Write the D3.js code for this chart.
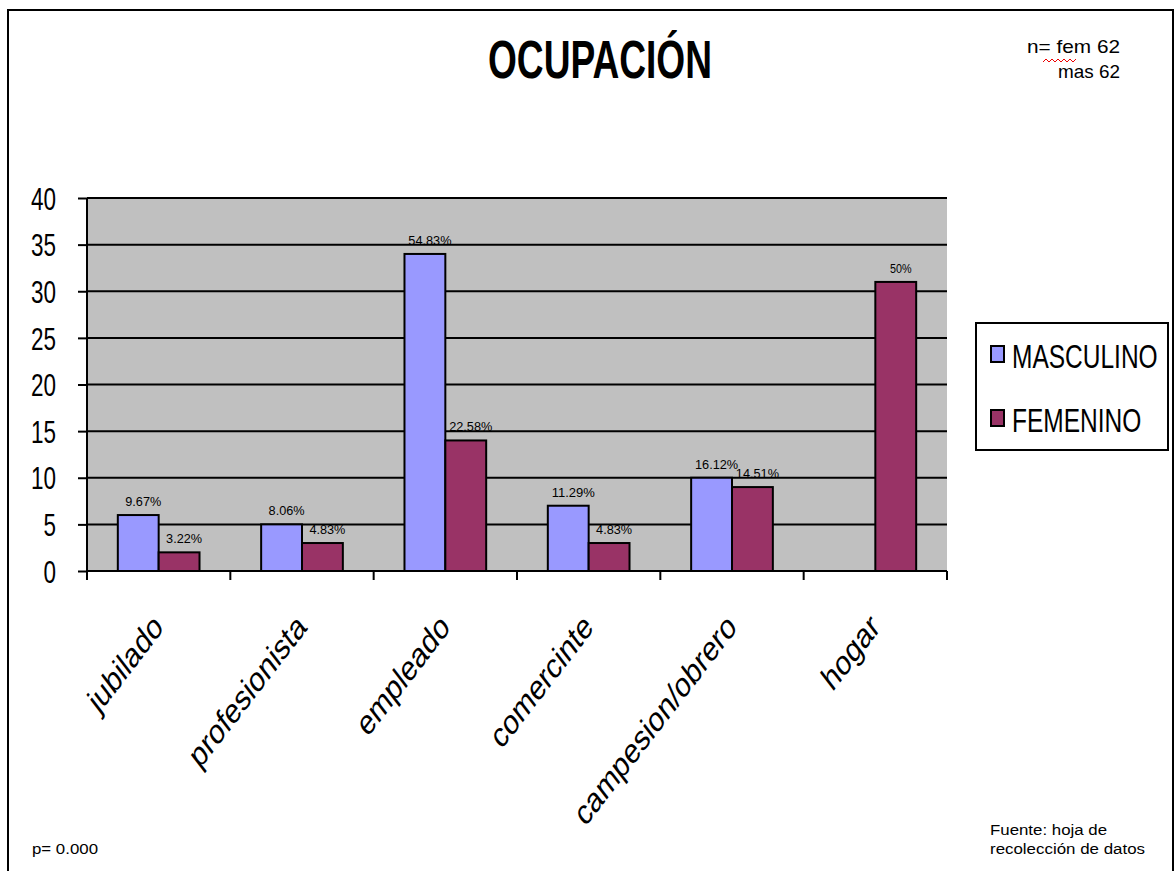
<!DOCTYPE html>
<html>
<head>
    <meta charset="utf-8">
    <title>Ocupación</title>
    <style>
        body { margin: 0; background: #fff; }
        svg { display: block; }
        text { font-family: "Liberation Sans", Arial, sans-serif; fill: #000; }
        .grid line { stroke: #000; stroke-width: 2px; }
        .bar { stroke: #000; stroke-width: 2px; }
    </style>
</head>
<body>
<svg id="chart" width="1176" height="871"></svg>
<script src="https://d3js.org/d3.v7.min.js"></script>
<script>
    const categories = ["jubilado", "profesionista", "empleado", "comercinte", "campesion/obrero", "hogar"];
    const series = ["MASCULINO", "FEMENINO"];
    const masculino = [6, 5, 34, 7, 10, 0];
    const femenino = [2, 3, 14, 3, 9, 31];
    const mascLabels = ["9.67%", "8.06%", "54.83%", "11.29%", "16.12%", ""];
    const femLabels = ["3.22%", "4.83%", "22.58%", "4.83%", "14.51%", "50%"];
    const yTicks = [0, 5, 10, 15, 20, 25, 30, 35, 40];
    const colors = ["#9999ff", "#993366"];

    const svg = d3.select("#chart");

    // the source picture is stretched, so text is squeezed to its measured width
    function fit(sel, w) {
        return sel.attr("textLength", w).attr("lengthAdjust", "spacingAndGlyphs");
    }

    // outer frame
    svg.append("rect").attr("x", 8).attr("y", 10).attr("width", 1165).attr("height", 870)
        .attr("fill", "none").attr("stroke", "#000").attr("stroke-width", 2);

    const pL = 87, pR = 947, pT = 198, pB = 571;

    const x = d3.scaleBand().domain(categories).range([pL, pR]);
    const x1 = d3.scaleBand().domain(series).range([x.bandwidth() * 0.215, x.bandwidth() * 0.785]);
    const y = d3.scaleLinear().domain([0, 40]).range([pB, pT]);

    // plot background
    svg.append("rect").attr("x", pL).attr("y", pT).attr("width", pR - pL).attr("height", pB - pT)
        .attr("fill", "#c0c0c0");

    // gridlines
    svg.append("g").attr("class", "grid")
        .selectAll("line").data(yTicks.slice(1)).join("line")
        .attr("x1", pL).attr("x2", pR)
        .attr("y1", d => y(d)).attr("y2", d => y(d));

    // y axis
    const yAxis = svg.append("g").attr("transform", `translate(${pL},0)`)
        .call(d3.axisLeft(y).tickValues(yTicks).tickSize(9).tickPadding(22));
    yAxis.selectAll("line, path").attr("stroke", "#000").attr("stroke-width", 2);
    yAxis.select(".domain").attr("d", `M0,${pT}V${pB}`);
    yAxis.selectAll("text")
        .style("font-size", "31px").style("font-family", "'Liberation Sans', Arial, sans-serif")
        .attr("dy", "0.36em")
        .each(function(d) { fit(d3.select(this), String(d).length * 12.5); });

    // x axis
    const xAxis = svg.append("g").attr("transform", `translate(0,${pB})`);
    xAxis.append("line").attr("x1", pL).attr("x2", pR).attr("stroke", "#000").attr("stroke-width", 2);
    const edges = categories.map(c => x(c)).concat([pR]);
    xAxis.selectAll("line.tk").data(edges).join("line").attr("class", "tk")
        .attr("x1", d => d).attr("x2", d => d).attr("y1", 0).attr("y2", 9)
        .attr("stroke", "#000").attr("stroke-width", 2);

    xAxis.selectAll("text.cat").data(categories).join("text").attr("class", "cat")
        .attr("transform", d => `translate(${x(d) + x.bandwidth() / 2 + 6},${58}) scale(1,1.3) rotate(-45)`)
        .attr("text-anchor", "end")
        .style("font-size", "27px")
        .text(d => d);

    // bars
    const rows = categories.map((c, i) => ({
        cat: c,
        vals: [
            { s: series[0], v: masculino[i], lab: mascLabels[i] },
            { s: series[1], v: femenino[i], lab: femLabels[i] }
        ]
    }));

    const groups = svg.append("g").selectAll("g").data(rows).join("g")
        .attr("transform", d => `translate(${x(d.cat)},0)`);

    groups.selectAll("rect").data(d => d.vals.filter(v => v.v > 0)).join("rect")
        .attr("class", "bar")
        .attr("x", d => x1(d.s))
        .attr("width", x1.bandwidth())
        .attr("y", d => y(d.v))
        .attr("height", d => y(0) - y(d.v))
        .attr("fill", d => colors[series.indexOf(d.s)]);

    groups.selectAll("text").data(d => d.vals.filter(v => v.lab)).join("text")
        .attr("x", d => x1(d.s) + x1.bandwidth() / 2 + 5)
        .attr("y", d => y(d.v) - 9)
        .attr("text-anchor", "middle")
        .style("font-size", "12px")
        .text(d => d.lab)
        .each(function(d) { fit(d3.select(this), d.lab.length * 7.2); });

    // title
    fit(svg.append("text").attr("x", 600).attr("y", 78).attr("text-anchor", "middle")
        .style("font-size", "53px").style("font-weight", "bold")
        .text("OCUPACIÓN"), 224);

    // sample note
    fit(svg.append("text").attr("x", 1120).attr("y", 53).attr("text-anchor", "end")
        .style("font-size", "19px").text("n= fem 62"), 93);
    fit(svg.append("text").attr("x", 1120).attr("y", 78).attr("text-anchor", "end")
        .style("font-size", "19px").text("mas 62"), 62);
    svg.append("path").attr("d", d3.range(0, 34, 3).map((d, i) => `${i ? "L" : "M"}${1043 + d},${i % 2 ? 59 : 62}`).join(""))
        .attr("fill", "none").attr("stroke", "#e00").attr("stroke-width", 1);

    // legend
    const lg = svg.append("g");
    lg.append("rect").attr("x", 976).attr("y", 323).attr("width", 192).attr("height", 127)
        .attr("fill", "#fff").attr("stroke", "#000").attr("stroke-width", 2);
    const li = lg.selectAll("g").data(series).join("g")
        .attr("transform", (d, i) => `translate(991,${346 + i * 64})`);
    li.append("rect").attr("width", 13).attr("height", 16)
        .attr("fill", (d, i) => colors[i]).attr("stroke", "#000").attr("stroke-width", 2);
    li.append("text").attr("transform", "translate(21,22) scale(1,1.38)")
        .style("font-size", "24.5px").text(d => d);

    // footnotes
    fit(svg.append("text").attr("x", 32).attr("y", 854).style("font-size", "14px").text("p= 0.000"), 66);
    fit(svg.append("text").attr("x", 990).attr("y", 835).style("font-size", "14px").text("Fuente: hoja de"), 117);
    fit(svg.append("text").attr("x", 990).attr("y", 854).style("font-size", "14px").text("recolección de datos"), 155);
</script>
</body>
</html>
